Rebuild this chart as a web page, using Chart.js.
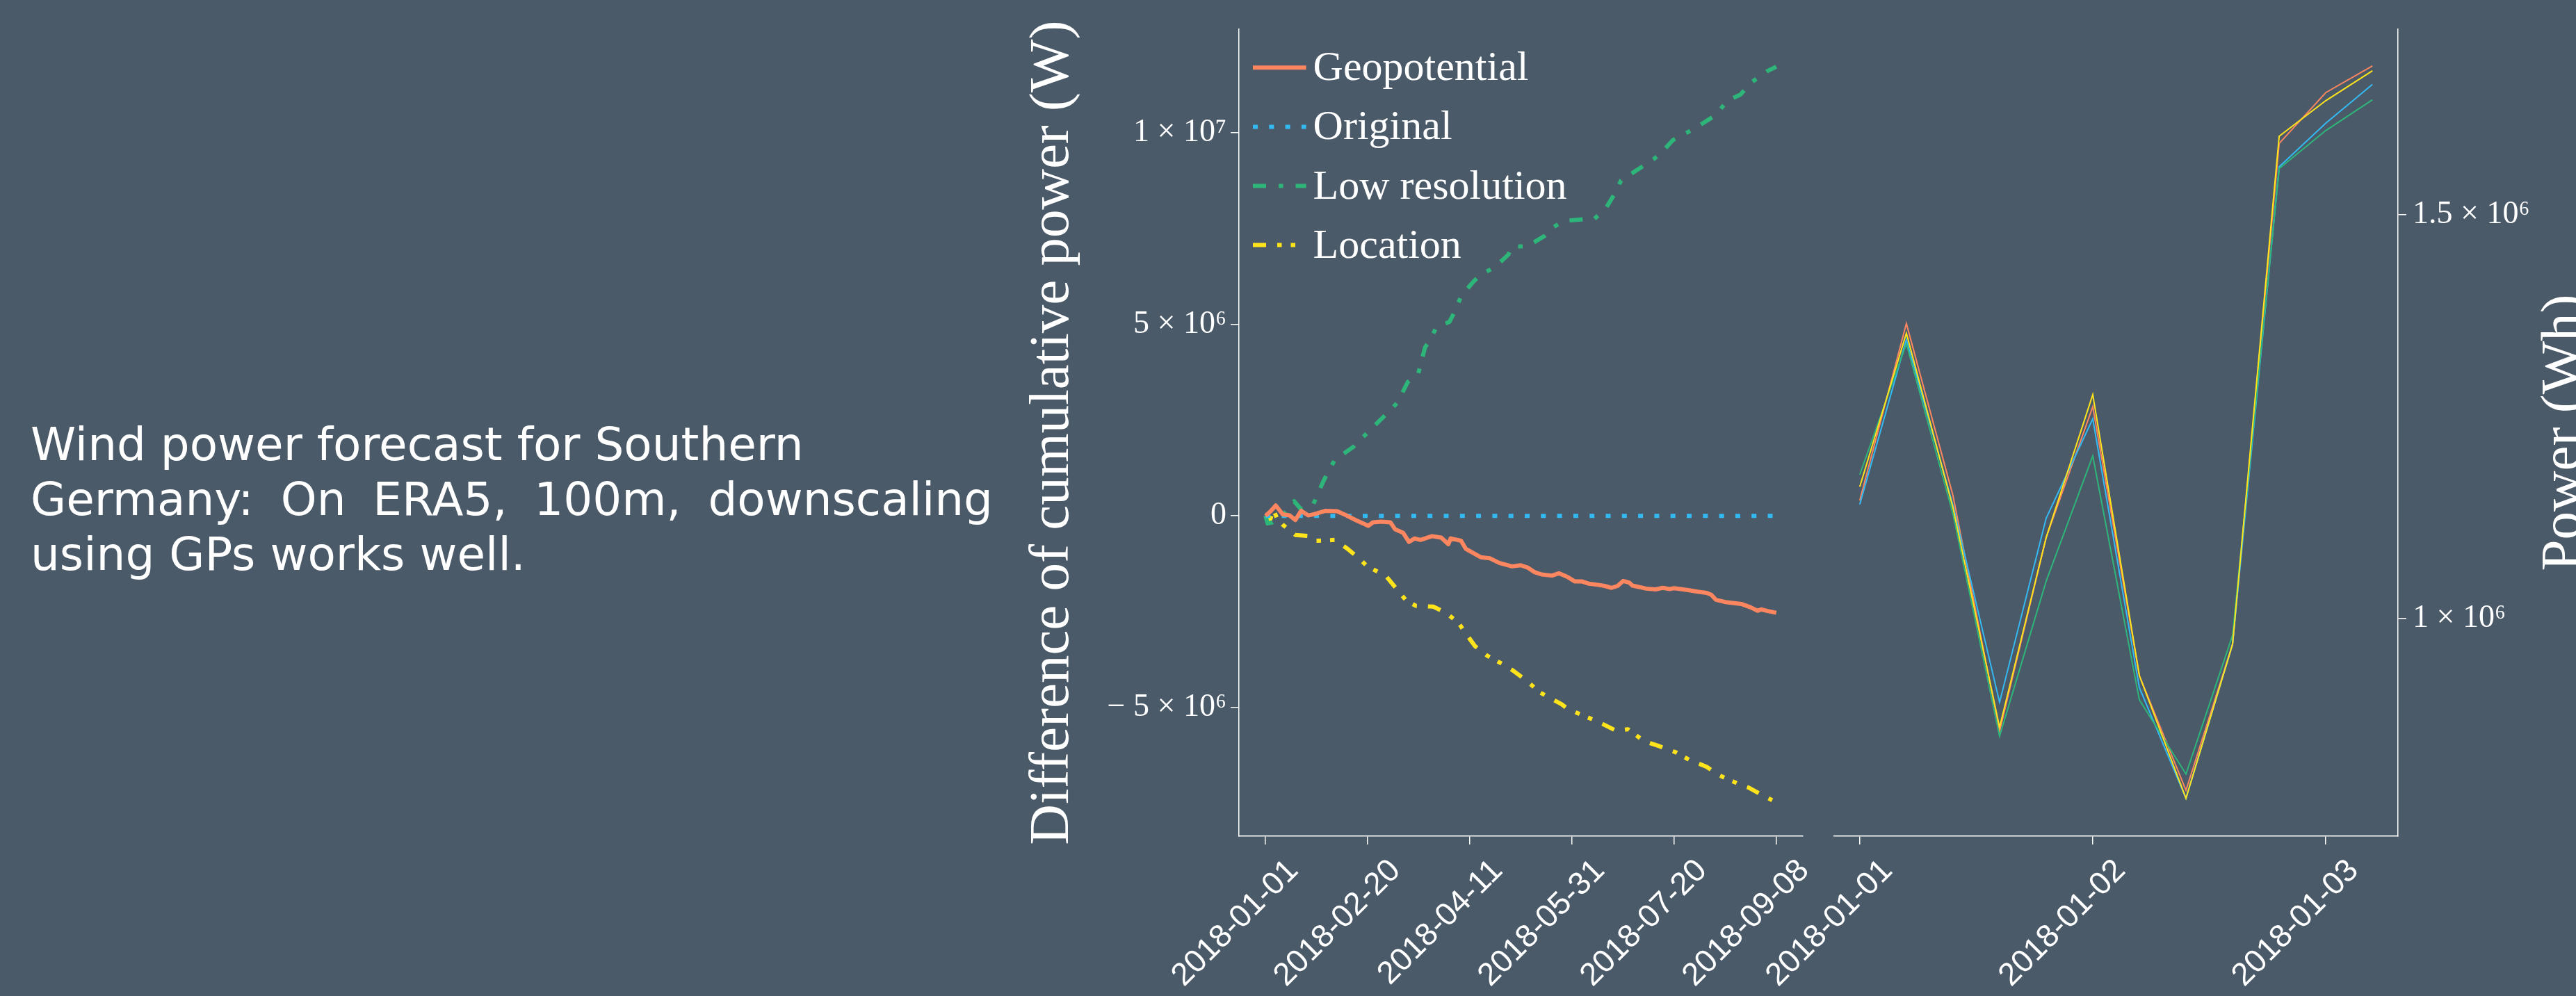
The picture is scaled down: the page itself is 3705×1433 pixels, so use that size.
<!DOCTYPE html>
<html>
<head>
<meta charset="utf-8">
<script src="https://cdn.jsdelivr.net/npm/chart.js@4.4.1/dist/chart.umd.min.js"></script>
<style>
  html, body { margin: 0; padding: 0; width: 3705px; height: 1433px; overflow: hidden; background: #4B5A69; }
  #lede {
    position: absolute; left: 44px; top: 600px; width: 1384px;
    font-family: "DejaVu Sans", "Open Sans", sans-serif; font-size: 66px; line-height: 79px;
    color: #ffffff; white-space: nowrap;
  }
  #lede .just { text-align: justify; text-align-last: justify; white-space: normal; }
  .layer { position: absolute; left: 0; top: 0; width: 3705px; height: 1433px; }
</style>
</head>
<body>
<div id="lede">
  <div>Wind power forecast for Southern</div>
  <div class="just">Germany: On ERA5, 100m, downscaling</div>
  <div>using GPs works well.</div>
</div>
<div class="layer"><canvas id="cumulative" width="3705" height="1433"></canvas></div>
<div class="layer"><canvas id="hourly" width="3705" height="1433"></canvas></div>

<script>
// ---- Difference of cumulative power (units of 10^6 W), x = days since 2018-01-01 ----
const geopotentialDays = [0, 2.5, 5, 8.4, 11.8, 14.6, 17.4, 20.9, 23.7, 29.4, 35, 39.6, 44.1, 50.3, 52.6, 56.6, 61.1, 63.4, 67.3, 70.2, 73, 75.8, 81.5, 86, 89.5, 90.6, 95.7, 98, 105.3, 109.9, 114.4, 120.6, 124.9, 128.3, 131.7, 135.1, 140.2, 143.6, 147.6, 151.3, 154.7, 158.1, 162.6, 166, 169.4, 172.3, 175.1, 177.9, 179.6, 186.4, 191, 194.4, 197.8, 200, 206.8, 211.4, 215.9, 218.2, 220.4, 225, 232.9, 237.5, 240.9, 242.6, 245.4, 250];
const geopotentialDiff = [0, 0.12, 0.27, 0.04, 0.01, -0.11, 0.13, 0.01, 0.04, 0.13, 0.12, 0.01, -0.11, -0.26, -0.17, -0.15, -0.17, -0.35, -0.44, -0.68, -0.59, -0.63, -0.53, -0.57, -0.74, -0.59, -0.65, -0.86, -1.08, -1.11, -1.23, -1.32, -1.29, -1.35, -1.47, -1.53, -1.56, -1.50, -1.59, -1.71, -1.71, -1.77, -1.80, -1.83, -1.88, -1.83, -1.70, -1.74, -1.82, -1.90, -1.92, -1.88, -1.91, -1.89, -1.94, -1.98, -2.01, -2.06, -2.19, -2.25, -2.30, -2.39, -2.48, -2.44, -2.48, -2.53];

const originalDays = [0, 250];
const originalDiff = [0, 0];

const lowResDays = [0, 1, 3.4, 8.4, 12, 14, 17.4, 20, 23.1, 28.2, 29.9, 33.9, 43, 45.2, 50.3, 57.7, 64.5, 69.6, 74.7, 78.1, 80.4, 83.8, 90, 92.9, 95.7, 101.4, 105.3, 112.1, 118.9, 120.6, 128, 136.5, 139.4, 145.6, 157, 160.4, 166.6, 171.1, 174, 180.8, 189.8, 193.8, 199.5, 208, 213.6, 220.4, 226.1, 232.4, 238, 245.4, 250];
const lowResDiff = [0, -0.2, -0.17, 0.01, 0.25, 0.38, 0.17, 0.2, 0.27, 0.89, 1.07, 1.46, 1.80, 1.92, 2.19, 2.58, 2.95, 3.49, 3.70, 4.40, 4.58, 4.94, 5.06, 5.36, 5.73, 6.09, 6.30, 6.48, 6.82, 7.03, 7.03, 7.30, 7.48, 7.69, 7.75, 7.72, 8.03, 8.42, 8.75, 8.99, 9.30, 9.48, 9.81, 10.05, 10.23, 10.46, 10.84, 10.99, 11.32, 11.60, 11.72];

const locationDays = [0, 2, 3.8, 5.5, 8.4, 14.6, 22.6, 24.8, 33.9, 40.1, 46.4, 49.2, 52, 58.8, 63.4, 69, 73.6, 82.1, 88.3, 94.6, 96.8, 102.5, 108.5, 116.7, 121.2, 128.6, 134.3, 145, 147.9, 155.8, 162.6, 171.7, 177.4, 185.3, 192.1, 201.2, 207.4, 215.9, 221.6, 232.9, 236.3, 244.9, 248];
const locationDiff = [0.01, -0.15, 0.17, -0.05, -0.23, -0.5, -0.53, -0.65, -0.63, -0.86, -1.14, -1.29, -1.38, -1.56, -1.86, -2.22, -2.35, -2.37, -2.53, -2.80, -2.98, -3.40, -3.65, -3.89, -4.04, -4.34, -4.61, -4.92, -5.04, -5.22, -5.37, -5.61, -5.57, -5.88, -6.00, -6.18, -6.37, -6.55, -6.76, -7.03, -7.09, -7.34, -7.42];

const cumTickDays = [0, 50, 100, 150, 200, 250];
const cumTickLabels = ['2018-01-01', '2018-02-20', '2018-04-11', '2018-05-31', '2018-07-20', '2018-09-08'];
const cumValueTicks = [-5, 0, 5, 10];
const cumValueLabels = ['\u2212 5 \u00d7 10\u2076', '0', '5 \u00d7 10\u2076', '1 \u00d7 10\u2077'];

// ---- Power per step (units of 10^6 Wh), x = step index ----
const hourlySteps = [0, 1, 2, 3, 4, 5, 6, 7, 8, 9, 10, 11];
const geopotentialPower = [1.146, 1.365, 1.152, 0.860, 1.100, 1.262, 0.929, 0.787, 0.968, 1.588, 1.651, 1.684];
const originalPower     = [1.141, 1.345, 1.140, 0.896, 1.124, 1.247, 0.914, 0.777, 0.968, 1.559, 1.613, 1.661];
const lowResPower       = [1.178, 1.340, 1.129, 0.854, 1.046, 1.201, 0.899, 0.807, 0.979, 1.557, 1.604, 1.642];
const locationPower     = [1.163, 1.353, 1.137, 0.865, 1.100, 1.277, 0.929, 0.777, 0.968, 1.597, 1.641, 1.678];

const hourlyTickSteps = [0, 5, 10];
const hourlyTickLabels = ['2018-01-01', '2018-01-02', '2018-01-03'];
const powerTicks = [1.0, 1.5];
const powerTickLabels = ['1 \u00d7 10\u2076', '1.5 \u00d7 10\u2076'];

// ---- styling ----
const COLORS = { geo: '#FC8660', orig: '#33BAF3', low: '#2EB57A', loc: '#FFE41C' };
const INK = '#FFFFFF';
const SERIF = '"Liberation Serif", "DejaVu Serif", serif';
const SANS = '"Liberation Sans", Arial, sans-serif';

const pts = (xs, ys) => xs.map((x, i) => ({ x, y: ys[i] }));
const fixedTicks = (values) => (scale) => { scale.ticks = values.map(v => ({ value: v })); };
const labelFrom = (values, labels) => (value) => {
  const i = values.findIndex(v => Math.abs(v - value) < 1e-9);
  return i >= 0 ? labels[i] : '';
};

const axisBase = {
  grid: { display: true, drawOnChartArea: false, drawTicks: true, tickLength: 12, color: INK, lineWidth: 1.5 },
  border: { display: true, color: INK, width: 1.5 },
};

// legend drawn inside the upper-left corner of the plot area
const insideLegend = {
  id: 'insideLegend',
  afterDatasetsDraw(chart, args, o) {
    const { ctx, chartArea } = chart;
    ctx.save();
    chart.data.datasets.forEach((ds, i) => {
      const y = chartArea.top + o.firstRow + i * o.rowGap;
      const x0 = chartArea.left + o.inset;
      ctx.strokeStyle = ds.borderColor;
      ctx.lineWidth = ds.borderWidth;
      ctx.lineCap = 'butt';
      ctx.setLineDash(ds.borderDash || []);
      ctx.beginPath();
      ctx.moveTo(x0, y);
      ctx.lineTo(x0 + o.sample, y);
      ctx.stroke();
      ctx.setLineDash([]);
      ctx.fillStyle = INK;
      ctx.font = o.font;
      ctx.textAlign = 'left';
      ctx.textBaseline = 'alphabetic';
      ctx.fillText(ds.label, x0 + o.sample + o.gap, y + o.baselineShift);
    });
    ctx.restore();
  }
};

// title of a right-hand axis, reading bottom to top
const sideTitle = {
  id: 'sideTitle',
  afterDraw(chart, args, o) {
    const s = chart.scales.y;
    const ctx = chart.ctx;
    ctx.save();
    ctx.translate(s.left + o.offset, (s.top + s.bottom) / 2);
    ctx.rotate(-Math.PI / 2);
    ctx.fillStyle = INK;
    ctx.font = o.font;
    ctx.textAlign = 'center';
    ctx.textBaseline = 'middle';
    ctx.fillText(o.text, 0, 0);
    ctx.restore();
  }
};

new Chart(document.getElementById('cumulative'), {
  type: 'line',
  data: {
    datasets: [
      { label: 'Geopotential', data: pts(geopotentialDays, geopotentialDiff), borderColor: COLORS.geo, borderWidth: 6, borderDash: [] },
      { label: 'Original', data: pts(originalDays, originalDiff), borderColor: COLORS.orig, borderWidth: 6, borderDash: [7, 16.3] },
      { label: 'Low resolution', data: pts(lowResDays, lowResDiff), borderColor: COLORS.low, borderWidth: 6, borderDash: [19, 18, 6.5, 18] },
      { label: 'Location', data: pts(locationDays, locationDiff), borderColor: COLORS.loc, borderWidth: 6, borderDash: [19, 16, 6.5, 13, 6.5, 16] },
    ]
  },
  options: {
    responsive: false,
    animation: false,
    devicePixelRatio: 1,
    layout: { padding: { left: 1466, right: 1112, top: 42, bottom: 0 } },
    elements: { point: { radius: 0 }, line: { tension: 0, borderCapStyle: 'butt', borderJoinStyle: 'round' } },
    plugins: {
      legend: { display: false },
      tooltip: { enabled: false },
      insideLegend: { firstRow: 55.3, rowGap: 85.1, inset: 20, sample: 76.6, gap: 10, baselineShift: 18, font: '60px ' + SERIF },
    },
    scales: {
      x: {
        ...axisBase,
        type: 'linear', min: -13, max: 263,
        afterBuildTicks: fixedTicks(cumTickDays),
        afterFit: (s) => { s.height = 230; },
        ticks: {
          color: INK, font: { family: SANS, size: 46 }, autoSkip: false,
          minRotation: 45, maxRotation: 45, padding: 11, labelOffset: 40,
          callback: labelFrom(cumTickDays, cumTickLabels),
        },
      },
      y: {
        ...axisBase,
        type: 'linear', position: 'left', min: -8.36, max: 12.70,
        afterBuildTicks: fixedTicks(cumValueTicks),
        afterFit: (s) => { s.width = 316; },
        ticks: { color: INK, font: { family: SERIF, size: 46 }, padding: 6, callback: labelFrom(cumValueTicks, cumValueLabels) },
        title: { display: true, text: 'Difference of cumulative power (W)', color: INK, font: { family: SERIF, size: 81 }, padding: { top: 0, bottom: 0 } },
      },
    },
  },
  plugins: [insideLegend],
});

new Chart(document.getElementById('hourly'), {
  type: 'line',
  data: {
    datasets: [
      { label: 'Geopotential', data: pts(hourlySteps, geopotentialPower), borderColor: COLORS.geo, borderWidth: 2, order: 3 },
      { label: 'Original', data: pts(hourlySteps, originalPower), borderColor: COLORS.orig, borderWidth: 2, order: 2 },
      { label: 'Low resolution', data: pts(hourlySteps, lowResPower), borderColor: COLORS.low, borderWidth: 2, order: 1 },
      { label: 'Location', data: pts(hourlySteps, locationPower), borderColor: COLORS.loc, borderWidth: 2, order: 0 },
    ]
  },
  options: {
    responsive: false,
    animation: false,
    devicePixelRatio: 1,
    layout: { padding: { left: 2638, right: 0, top: 42, bottom: 0 } },
    elements: { point: { radius: 0 }, line: { tension: 0 } },
    plugins: {
      legend: { display: false },
      tooltip: { enabled: false },
      sideTitle: { text: 'Power (Wh)', offset: 240, font: '81px ' + SERIF },
    },
    scales: {
      x: {
        ...axisBase,
        type: 'linear', min: -0.55, max: 11.55,
        afterBuildTicks: fixedTicks(hourlyTickSteps),
        afterFit: (s) => { s.height = 230; },
        ticks: {
          color: INK, font: { family: SANS, size: 46 }, autoSkip: false,
          minRotation: 45, maxRotation: 45, padding: 11, labelOffset: 40,
          callback: labelFrom(hourlyTickSteps, hourlyTickLabels),
        },
      },
      y: {
        ...axisBase,
        type: 'linear', position: 'right', min: 0.7302, max: 1.7295,
        afterBuildTicks: fixedTicks(powerTicks),
        afterFit: (s) => { s.width = 256; },
        ticks: { color: INK, font: { family: SERIF, size: 46 }, padding: 9, callback: labelFrom(powerTicks, powerTickLabels) },
      },
    },
  },
  plugins: [sideTitle],
});
</script>
</body>
</html>
